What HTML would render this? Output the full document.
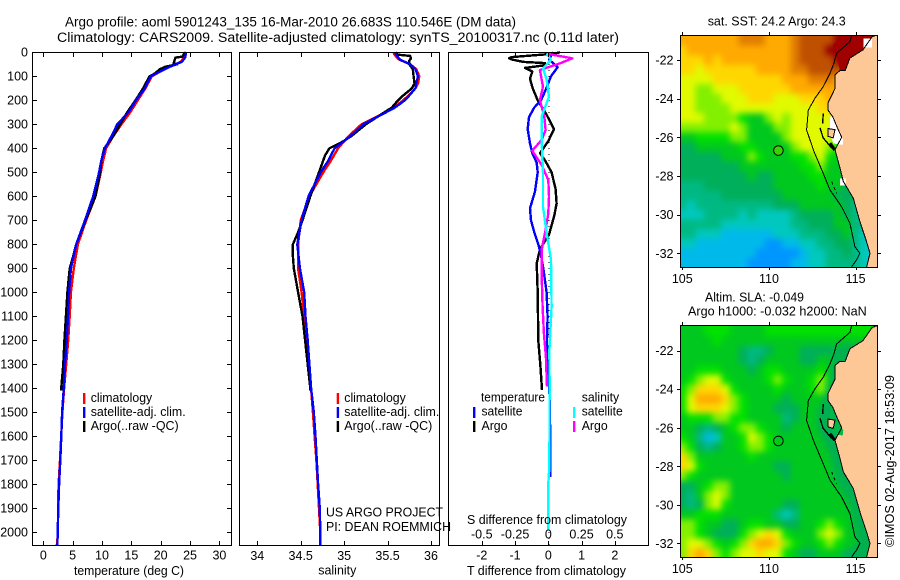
<!DOCTYPE html>
<html>
<head>
<meta charset="utf-8">
<title>Argo profile</title>
<style>
html,body{margin:0;padding:0;background:#fff;}
svg{display:block;}
text{font-family:"Liberation Sans",sans-serif;font-size:12.5px;fill:#000;}
.ttl{font-size:13.5px;}
</style>
</head>
<body>
<svg id="chart" xmlns="http://www.w3.org/2000/svg" width="900" height="580" viewBox="0 0 900 580">
<defs>
<filter id="smooth" filterUnits="userSpaceOnUse" x="640" y="0" width="260" height="580" color-interpolation-filters="sRGB"><feGaussianBlur stdDeviation="3.2"/></filter>
<clipPath id="clip-sst"><rect x="680.5" y="35.5" width="197" height="232"/></clipPath>
<clipPath id="clip-sla"><rect x="680.5" y="325.5" width="197" height="232"/></clipPath>
</defs>
<g id="maps"></g>
<g id="profiles"></g>

<text class="ttl" x="65" y="26.5" textLength="451" lengthAdjust="spacingAndGlyphs">Argo profile: aoml 5901243_135 16-Mar-2010 26.683S 110.546E (DM data)</text>
<text class="ttl" x="57" y="42" textLength="562" lengthAdjust="spacingAndGlyphs">Climatology: CARS2009. Satellite-adjusted climatology: synTS_20100317.nc (0.11d later)</text>

<text x="74" y="575" textLength="110" lengthAdjust="spacingAndGlyphs">temperature (deg C)</text>
<text x="318.3" y="574.5" textLength="38" lengthAdjust="spacingAndGlyphs">salinity</text>
<text x="467" y="575" textLength="159" lengthAdjust="spacingAndGlyphs">T difference from climatology</text>
<text x="467" y="524" textLength="160" lengthAdjust="spacingAndGlyphs">S difference from climatology</text>

<g>
<rect x="83" y="393" width="2.4" height="11" fill="#f00"/>
<rect x="83" y="407" width="2.4" height="11" fill="#00f"/>
<rect x="83" y="421" width="2.4" height="11" fill="#000"/>
<text x="90.7" y="402" textLength="61.5" lengthAdjust="spacingAndGlyphs">climatology</text>
<text x="90.7" y="416" textLength="95" lengthAdjust="spacingAndGlyphs">satellite-adj. clim.</text>
<text x="90.7" y="430" textLength="88" lengthAdjust="spacingAndGlyphs">Argo(..raw -QC)</text>
</g>
<g>
<rect x="336.7" y="393" width="2.4" height="11" fill="#f00"/>
<rect x="336.7" y="407" width="2.4" height="11" fill="#00f"/>
<rect x="336.7" y="421" width="2.4" height="11" fill="#000"/>
<text x="344.3" y="402" textLength="61.5" lengthAdjust="spacingAndGlyphs">climatology</text>
<text x="344.3" y="416" textLength="95" lengthAdjust="spacingAndGlyphs">satellite-adj. clim.</text>
<text x="344.3" y="430" textLength="88" lengthAdjust="spacingAndGlyphs">Argo(..raw -QC)</text>
</g>
<text x="326" y="516.7" textLength="117" lengthAdjust="spacingAndGlyphs">US ARGO PROJECT</text>
<text x="326" y="531" textLength="125" lengthAdjust="spacingAndGlyphs">PI: DEAN ROEMMICH</text>

<g>
<text x="481" y="401.7" textLength="64" lengthAdjust="spacingAndGlyphs">temperature</text>
<text x="481.5" y="415.7" textLength="41" lengthAdjust="spacingAndGlyphs">satellite</text>
<text x="481.5" y="430" textLength="26" lengthAdjust="spacingAndGlyphs">Argo</text>
<rect x="473" y="407" width="2.4" height="11" fill="#00f"/>
<rect x="473" y="421" width="2.4" height="11" fill="#000"/>
<text x="581.7" y="401.7" textLength="37.5" lengthAdjust="spacingAndGlyphs">salinity</text>
<text x="581.7" y="415.7" textLength="41" lengthAdjust="spacingAndGlyphs">satellite</text>
<text x="581.7" y="430" textLength="26" lengthAdjust="spacingAndGlyphs">Argo</text>
<rect x="573" y="407" width="2.4" height="11" fill="#0ff"/>
<rect x="573" y="421" width="2.4" height="11" fill="#f0f"/>
</g>

<text x="707.7" y="25.7" textLength="138" lengthAdjust="spacingAndGlyphs">sat. SST: 24.2  Argo: 24.3</text>
<text x="705" y="301.7" textLength="99" lengthAdjust="spacingAndGlyphs">Altim. SLA: -0.049</text>
<text x="688" y="315.7" textLength="178.7" lengthAdjust="spacingAndGlyphs">Argo h1000: -0.032 h2000: NaN</text>
<text transform="translate(894,547) rotate(-90)" x="0" y="0" textLength="172" lengthAdjust="spacingAndGlyphs">©IMOS 02-Aug-2017 18:53:09</text>
</svg>

<script>
// ---- profile data ----
const depthTicks = [0,100,200,300,400,500,600,700,800,900,1000,1100,1200,1300,1400,1500,1600,1700,1800,1900,2000];
const tempTicks = [0,5,10,15,20,25,30];
const salinityTicks = [34,34.5,35,35.5,36];
const tDiffTicks = [-2,-1,0,1,2];
const sDiffTicks = [-0.5,-0.25,0,0.25,0.5];

const tempDepths = [0,20,40,60,80,100,150,200,250,300,350,400,450,500,600,700,800,900,1000,1100,1200,1300,1400,1500,1600,1700,1800,1900,2000,2056];
const tempClim = [24.1,24.0,23.4,21.5,19.9,18.5,17.4,16.1,14.8,13.3,11.9,10.7,10.2,9.8,8.9,7.3,5.9,5.2,4.7,4.5,4.25,3.9,3.55,3.25,3.05,2.85,2.6,2.5,2.5,2.3];
const tempSat = [24.3,24.2,23.6,21.6,19.9,18.3,17.3,15.8,14.5,12.6,11.6,10.5,9.9,9.5,8.5,7.1,5.6,4.7,4.4,4.2,4.0,3.7,3.5,3.2,3.07,2.9,2.7,2.55,2.45,2.4];
const tempArgoDepths = [0,5,18,22,45,50,60,70,90,100,150,200,250,300,350,400,450,500,600,700,800,850,900,1000,1100,1200,1300,1400,1410];
const tempArgo = [24.3,24.0,23.7,22.5,22.2,22.8,20.8,19.9,18.9,18.1,17.0,15.7,14.3,13.1,11.9,10.4,9.9,9.7,8.9,7.2,5.6,5.1,4.5,4.1,3.85,3.6,3.4,3.05,3.05];

const salDepths = [0,10,30,50,70,100,130,150,180,200,230,260,300,350,400,450,500,600,700,800,900,1000,1100,1200,1300,1400,1500,1600,1700,1800,1900,2000,2056];
const salClim = [35.57,35.58,35.63,35.76,35.83,35.865,35.85,35.82,35.74,35.68,35.57,35.42,35.2,35.05,34.93,34.85,34.76,34.6,34.5,34.47,34.47,34.51,34.54,34.56,34.58,34.62,34.64,34.66,34.68,34.695,34.71,34.725,34.725];
const salSat = [35.585,35.6,35.64,35.76,35.82,35.85,35.83,35.82,35.75,35.7,35.585,35.43,35.22,35.07,34.89,34.82,34.73,34.59,34.51,34.46,34.49,34.54,34.555,34.58,34.6,34.62,34.65,34.67,34.685,34.7,34.72,34.725,34.725];
const salArgoDepths = [0,10,15,25,35,50,70,100,130,150,180,200,230,260,300,350,375,400,430,450,500,600,700,750,800,850,900,1000,1100,1200,1300,1400,1410];
const salArgo = [35.59,35.62,35.76,35.77,35.75,35.75,35.79,35.8,35.81,35.78,35.68,35.62,35.55,35.42,35.25,35.08,34.97,34.83,34.78,34.76,34.71,34.61,34.52,34.47,34.41,34.41,34.42,34.47,34.52,34.55,34.58,34.61,34.61];

const tSatDepths = [0,10,30,62,100,150,200,230,270,320,380,420,460,500,580,650,700,750,800,840,900,1000,1100,1200,1300,1400,1500,1770];
const tSatDiff = [0.15,0.1,0.02,0.28,0.08,-0.06,-0.22,-0.42,-0.58,-0.62,-0.55,-0.48,-0.35,-0.32,-0.4,-0.55,-0.52,-0.42,-0.3,-0.23,-0.15,-0.05,-0.02,-0.04,-0.03,0.03,0.05,0.06];
const tArgoDepths = [0,5,10,20,25,30,40,45,55,65,80,110,150,200,260,320,370,420,450,500,570,630,680,760,820,880,1000,1200,1300,1407];
const tArgoDiff = [0.35,0.2,-0.2,-1.1,-1.18,-1.1,-0.75,-0.1,-0.15,-0.7,-0.48,-0.55,-0.47,-0.32,-0.05,0.17,0,-0.25,-0.1,0.1,0.22,0.25,0.18,0.02,-0.25,-0.35,-0.32,-0.3,-0.24,-0.19];
const sArgoDepths = [7,25,46,74,143,199,268,324,365,410,469,532,601,671,740,824,921,1060,1171,1268,1393];
const sArgoDiff = [0,0.18,0.09,-0.063,-0.04,-0.063,-0.03,-0.02,-0.05,-0.12,-0.05,0,0.005,0,-0.02,-0.05,-0.05,-0.043,-0.033,-0.018,-0.01];
const sSatDepths = [4,32,67,115,185,268,365,504,643,754,865,1060,1240,1379,1726,1796,1990];
const sSatDiff = [-0.012,0.02,-0.04,-0.012,0.005,-0.05,-0.05,-0.04,-0.04,-0.012,0.02,0.025,0.008,0.01,0.008,0,0];

// ---- map data: colour levels 0 (blue) to 13 (dark red), rows lat 21..32.5 step 0.5, cols lon 105..115.5 step 0.5 ----
const mapLons = [105,105.5,106,106.5,107,107.5,108,108.5,109,109.5,110,110.5,111,111.5,112,112.5,113,113.5,114,114.5,115,115.5];
const mapLats = [21,21.5,22,22.5,23,23.5,24,24.5,25,25.5,26,26.5,27,27.5,28,28.5,29,29.5,30,30.5,31,31.5,32,32.5];
const sstGrid = [
[10,10,10,10,10,10,10,11,11,11,10,10,10,11,12,12,12,12,13,13,13,13],
[9,10,10,10,10,10,10,10,10,10,10,10,10,11,12,12,12,13,13,13,13,13],
[9,9,9,10,9,10,10,10,10,10,10,10,10,11,12,12,12,12,13,13,13,13],
[9,9,8,9,9,9,9,9,9,10,10,10,10,11,11,12,12,12,12,12,12,12],
[8,8,8,8,9,9,9,9,9,9,9,9,10,10,10,11,11,11,10,10,10,10],
[8,8,7,7,8,8,8,9,9,9,9,9,9,10,10,10,10,10,10,10,10,10],
[8,8,7,7,7,8,8,8,9,9,9,8,8,8,9,9,9,10,10,10,10,10],
[8,8,7,7,7,7,8,8,8,8,8,8,8,8,8,8,9,9,10,10,10,10],
[8,8,8,7,7,7,7,6,5,5,7,8,7,8,8,8,8,8,9,9,9,9],
[7,7,7,7,7,7,8,7,5,5,5,7,7,8,8,8,8,8,8,8,8,8],
[5,5,6,6,6,6,7,7,5,5,5,5,7,8,8,8,8,8,6,5,5,5],
[4,4,5,5,5,5,5,6,6,5,5,5,5,7,8,8,8,7,6,5,5,5],
[4,4,4,4,4,5,5,5,7,6,5,5,5,6,6,7,8,6,5,5,5,5],
[4,4,4,4,4,4,4,5,5,5,5,5,5,5,6,6,7,5,5,5,5,5],
[4,4,4,4,4,4,4,4,5,4,4,5,5,5,5,6,6,5,5,5,5,5],
[3,3,3,4,4,4,4,4,4,4,4,5,5,5,5,5,6,5,5,4,4,4],
[3,3,3,3,3,4,4,4,4,4,4,4,5,5,5,5,5,5,4,4,4,4],
[3,2,3,3,3,3,3,3,3,3,3,4,4,4,5,5,5,5,5,4,3,3],
[2,2,2,3,3,3,3,2,3,2,2,2,2,3,4,4,4,4,5,4,3,3],
[3,3,3,3,3,2,2,2,2,2,2,2,2,3,3,4,4,4,5,5,3,3],
[3,3,2,2,2,1,1,1,1,1,1,2,2,2,3,3,3,4,4,5,3,2],
[2,2,1,1,1,1,1,1,1,1,0,0,1,1,2,2,3,3,4,4,3,2],
[1,1,1,1,1,1,1,1,1,0,0,0,0,0,1,2,2,3,3,4,3,2],
[1,1,1,1,1,1,1,1,0,0,0,0,0,1,1,2,2,3,3,3,3,2]
];
const slaGrid = [
[5,5,5,6,6,6,5,5,5,5,6,6,6,6,6,6,6,6,6,6,6,6],
[5,5,5,5,6,5,5,5,5,5,5,5,5,5,5,5,5,5,5,5,5,5],
[5,5,5,5,5,5,5,4,3,3,4,5,5,5,4,4,4,4,5,5,5,5],
[5,5,5,5,5,5,5,4,3,4,5,5,5,5,4,4,5,5,5,5,5,5],
[5,5,6,6,6,5,5,5,4,5,6,6,5,5,5,5,6,5,5,5,5,5],
[5,6,7,8,8,6,5,5,5,5,6,7,6,5,5,6,7,6,5,5,5,5],
[6,7,9,9,9,8,6,5,5,5,5,6,5,5,5,6,7,6,5,5,5,5],
[6,8,10,10,10,9,7,6,5,5,5,5,4,5,5,5,5,5,5,5,5,5],
[6,8,9,9,9,8,7,6,5,5,5,4,4,4,5,5,5,5,5,5,5,5],
[5,6,6,6,7,7,6,6,5,5,5,5,3,4,5,5,5,5,5,5,5,5],
[5,5,4,3,4,5,6,7,7,6,5,5,4,5,5,5,5,5,5,5,5,5],
[6,5,3,1,2,5,5,6,8,7,6,5,5,5,5,5,5,5,5,5,5,5],
[7,6,4,3,4,5,5,6,7,7,6,5,5,5,5,5,5,5,5,5,5,5],
[9,7,5,5,5,5,5,5,6,5,5,5,5,5,5,5,5,5,5,5,5,5],
[9,8,6,5,5,5,5,5,5,5,5,4,4,5,5,5,5,5,5,5,5,5],
[7,6,5,5,5,5,5,5,5,5,5,5,4,5,5,5,5,5,5,5,5,5],
[4,4,5,6,7,7,5,5,5,5,5,5,5,5,5,5,5,5,5,5,5,5],
[4,3,5,7,8,7,5,5,5,5,5,5,5,5,5,5,5,5,5,5,5,5],
[4,3,4,7,8,6,5,5,5,5,5,5,4,4,5,5,5,5,5,5,5,5],
[5,5,6,6,6,5,5,5,5,5,5,3,2,3,5,5,5,5,5,5,5,5],
[7,7,6,5,5,4,4,5,6,6,5,5,4,4,5,5,6,7,6,5,5,5],
[7,7,6,5,4,4,4,6,7,8,9,8,6,5,5,5,7,8,7,5,5,5],
[7,8,8,7,6,5,6,7,9,10,10,9,7,6,5,5,6,7,6,5,5,5],
[7,9,10,9,7,6,7,8,8,9,8,8,6,5,4,4,5,5,5,4,4,4]
];
const coastLons = [116.25,115.95,115.42,114.67,114.4,114.09,113.8,113.8,113.42,113.42,113.69,113.93,114.2,113.81,114.1,114.29,114.87,115.25,115.63,115.83,115.63];
const coastLats = [20.7,20.8,21.48,21.9,22.55,22.55,22.78,23.5,24.2,24.6,24.95,25.47,26.0,26.64,27.59,28.28,29.15,30.36,31.39,32.0,32.73];
const isobathLons = [114.77,114.67,113.9,113.75,113.52,113.13,112.65,112.27,112.17,112.6,113.13,113.52,114.19,114.67,114.96,115.25,115.06,114.77];
const isobathLats = [20.72,21.05,21.66,22.17,22.69,23.38,23.98,24.59,25.62,26.74,27.86,28.72,29.59,30.45,31.66,32.0,32.34,32.7];
const bayLons = [113.52,113.69,113.93,114.29,114.25,113.71,113.52];
const bayLats = [24.93,24.95,25.47,26.14,26.4,26.31,25.79];
const peninsulaLons = [113.42,113.81,113.71,113.42];
const peninsulaLats = [25.55,25.6,26.03,25.95];
const redLons = [113.7,113.7,114.27,115.95,115.88,115.42,114.67,114.38,114.09,113.98,113.9];
const redLats = [21.64,21.22,20.7,20.7,20.85,21.48,21.9,22.55,22.55,22.0,21.64];
const gapALons = [115.45,115.95,115.95,115.45];
const gapALats = [20.9,20.9,21.35,21.35];
const gapBLons = [114.1,114.45,114.45,114.1];
const gapBLats = [28.12,28.12,28.5,28.5];
const shelfLons = [113.95,113.62,113.42,113.13,112.75,112.85,113.52,113.9,114.67,115.06,114.77,116.25,116.25];
const shelfLats = [21.65,22.57,23.61,24.47,25.34,26.2,27.41,28.8,30.0,31.74,32.73,32.73,21.65];
const dirkLons = [113.13,113.1];
const dirkLats = [24.76,25.28];
const hartogLons = [112.94,113.13,113.62];
const hartogLats = [25.51,26.03,26.55];
const blobLons = [113.52,113.8];
const blobLats = [26.3,26.66];
const abrolhosLons = [113.62,113.9];
const abrolhosLats = [28.29,28.9];
const argoLon = 110.546;
const argoLat = 26.683;
const mapLonTicks = [105,110,115];
const mapLatTicks = [22,24,26,28,30,32];

// ---- colour scale ----
const levelColours = ['#0096ff','#00b9eb','#00c8be','#00b982','#00af5a','#00c81e','#00e100','#82f000','#e1fa00','#ffd700','#ffaa00','#e17d00','#be5000','#960000'];
function levelColour(v){
  const i = Math.max(0, Math.min(levelColours.length - 1, Math.round(v)));
  return levelColours[i];
}

// ---- scales ----
const depthY = d => 52.3 + 0.24 * d;
const tempX = t => 43.3 + 5.87 * t;
const salX = s => 257.3 + 86.85 * (s - 34);
const tDiffX = t => 548.3 + 33.25 * t;
const sDiffX = s => 548.3 + 133 * s;
const lonX = lon => 682.3 + 17.33 * (lon - 105);
const NS = 'http://www.w3.org/2000/svg';

function make(parent, tag, attrs){
  const el = document.createElementNS(NS, tag);
  for (const k in attrs) el.setAttribute(k, attrs[k]);
  parent.appendChild(el);
  return el;
}
function pointsFrom(xs, ys, fx, fy){
  return xs.map((x, i) => fx(x).toFixed(1) + ',' + fy(ys[i]).toFixed(1)).join(' ');
}
const prof = document.getElementById('profiles');
const maps = document.getElementById('maps');

function drawSeries(values, depths, fx, colour, name){
  const line = make(prof, 'polyline', {points: pointsFrom(values, depths, fx, depthY), fill: 'none', stroke: colour, 'stroke-width': 2.4, 'shape-rendering': 'crispEdges', 'stroke-linejoin': 'round'});
  
  
}
function drawFrame(x0, x1, name){
  const r = make(prof, 'rect', {x: x0 + 0.5, y: 52.5, width: x1 - x0, height: 493, fill: 'none', stroke: '#000', 'stroke-width': 1, 'shape-rendering': 'crispEdges'});
  
  
}
function drawXTicks(ticks, fx, labelY, top, bottom){
  ticks.forEach(t => {
    const x = Math.round(fx(t)) + 0.5;
    if (top) {
      const a = make(prof, 'line', {x1: x, x2: x, y1: 52.5, y2: 57, stroke: '#000', 'shape-rendering': 'crispEdges'});
      
      
    }
    if (bottom) {
      const b = make(prof, 'line', {x1: x, x2: x, y1: 541, y2: 545.5, stroke: '#000', 'shape-rendering': 'crispEdges'});
      
      
    }
    const lbl = make(prof, 'text', {x: fx(t), y: labelY, 'text-anchor': 'middle'});
    lbl.textContent = String(t);
    
    
  });
}

// ---- panel 1: temperature ----
drawSeries(tempClim, tempDepths, tempX, '#f00', 'temperature-climatology-line');
drawSeries(tempArgo, tempArgoDepths, tempX, '#000', 'temperature-argo-line');
drawSeries(tempSat, tempDepths, tempX, '#00f', 'temperature-satellite-line');
drawFrame(32, 231, 'temperature-panel-frame');
drawXTicks(tempTicks, tempX, 559.5, true, true);
depthTicks.forEach(d => {
  const y = Math.round(depthY(d)) + 0.5;
  const l = make(prof, 'line', {x1: 32.5, x2: 37, y1: y, y2: y, stroke: '#000', 'shape-rendering': 'crispEdges'});
  
  
  const r = make(prof, 'line', {x1: 227, x2: 231.5, y1: y, y2: y, stroke: '#000', 'shape-rendering': 'crispEdges'});
  
  
  const lbl = make(prof, 'text', {x: 28, y: depthY(d) + 4, 'text-anchor': 'end'});
  lbl.textContent = String(d);
  
  
});

// ---- panel 2: salinity ----
drawSeries(salClim, salDepths, salX, '#f00', 'salinity-climatology-line');
drawSeries(salArgo, salArgoDepths, salX, '#000', 'salinity-argo-line');
drawSeries(salSat, salDepths, salX, '#00f', 'salinity-satellite-line');
drawFrame(239, 439, 'salinity-panel-frame');
drawXTicks(salinityTicks, salX, 560, true, true);

// ---- panel 3: differences ----
const zero = make(prof, 'line', {x1: tDiffX(0) + 0.5, x2: tDiffX(0) + 0.5, y1: 52, y2: 545, stroke: '#000', 'stroke-width': 1, 'stroke-dasharray': '1 5', 'shape-rendering': 'crispEdges'});


drawSeries(tArgoDiff, tArgoDepths, tDiffX, '#000', 't-diff-argo-line');
drawSeries(tSatDiff, tSatDepths, tDiffX, '#00f', 't-diff-satellite-line');
drawSeries(sArgoDiff, sArgoDepths, sDiffX, '#f0f', 's-diff-argo-line');
drawSeries(sSatDiff, sSatDepths, sDiffX, '#0ff', 's-diff-satellite-line');
drawFrame(448, 648, 'difference-panel-frame');
drawXTicks(tDiffTicks, tDiffX, 559.5, false, true);
drawXTicks(sDiffTicks, sDiffX, 538.7, true, false);

// ---- maps ----
function drawMap(grid, latY, frameTop, frameBottom, clipId, isSst){
  const clip = make(maps, 'g', {'clip-path': 'url(#' + clipId + ')'});
  
  
  const heat = make(clip, 'g', {filter: 'url(#smooth)'});
  
  
  grid.forEach((row, ri) => {
    row.forEach((v, ci) => {
      let x0 = lonX(mapLons[ci] - 0.25), x1 = lonX(mapLons[ci] + 0.25);
      let y0 = latY(mapLats[ri] - 0.25), y1 = latY(mapLats[ri] + 0.25);
      if (ci === 0) x0 -= 14;
      if (ci === row.length - 1) x1 += 14;
      if (ri === 0) y0 -= 14;
      if (ri === grid.length - 1) y1 += 14;
      const cell = make(heat, 'rect', {x: x0.toFixed(1), y: y0.toFixed(1), width: (x1 - x0 + 0.6).toFixed(1), height: (y1 - y0 + 0.6).toFixed(1), fill: levelColour(v)});
      
      
    });
  });
  if (!isSst) {
    const shelf = make(heat, 'polygon', {points: pointsFrom(shelfLons, shelfLats, lonX, latY), fill: '#00b050'});
    
    
  }
  if (isSst) {
    const red = make(clip, 'polygon', {points: pointsFrom(redLons, redLats, lonX, latY), fill: '#a00000', 'shape-rendering': 'crispEdges'});
    
    
  }
  const landLons = coastLons.concat([116.5, 116.5]);
  const landLats = coastLats.concat([32.9, 20.5]);
  const land = make(clip, 'polygon', {points: pointsFrom(landLons, landLats, lonX, latY), fill: '#fdc896', 'shape-rendering': 'crispEdges'});
  
  
  const bay = make(clip, 'polygon', {points: pointsFrom(bayLons, bayLats, lonX, latY), fill: isSst ? '#fff' : '#00b84a', 'shape-rendering': 'crispEdges'});
  
  
  const peninsula = make(clip, 'polygon', {points: pointsFrom(peninsulaLons, peninsulaLats, lonX, latY), fill: '#fdc896', stroke: '#000', 'stroke-width': 1, 'shape-rendering': 'crispEdges'});
  
  
  if (isSst) {
    const gapA = make(clip, 'polygon', {points: pointsFrom(gapALons, gapALats, lonX, latY), fill: '#fff', 'shape-rendering': 'crispEdges'});
    
    
    const gapB = make(clip, 'polygon', {points: pointsFrom(gapBLons, gapBLats, lonX, latY), fill: '#fff', 'shape-rendering': 'crispEdges'});
    
    
  }
  const coast = make(clip, 'polyline', {points: pointsFrom(coastLons, coastLats, lonX, latY), fill: 'none', stroke: '#000', 'stroke-width': 1, 'shape-rendering': 'crispEdges'});
  
  
  const iso = make(clip, 'polyline', {points: pointsFrom(isobathLons, isobathLats, lonX, latY), fill: 'none', stroke: '#000', 'stroke-width': 1, 'shape-rendering': 'crispEdges'});
  
  
  const dirk = make(clip, 'polyline', {points: pointsFrom(dirkLons, dirkLats, lonX, latY), fill: 'none', stroke: '#000', 'stroke-width': 1.4, 'shape-rendering': 'crispEdges'});
  
  
  const hartog = make(clip, 'polyline', {points: pointsFrom(hartogLons, hartogLats, lonX, latY), fill: 'none', stroke: '#000', 'stroke-width': 1.4, 'shape-rendering': 'crispEdges'});
  
  
  const blob = make(clip, 'polyline', {points: pointsFrom(blobLons, blobLats, lonX, latY), fill: 'none', stroke: '#000', 'stroke-width': 3, 'shape-rendering': 'crispEdges'});
  
  
  const abrolhos = make(clip, 'polyline', {points: pointsFrom(abrolhosLons, abrolhosLats, lonX, latY), fill: 'none', stroke: '#000', 'stroke-width': 1, 'stroke-dasharray': '3 3', 'shape-rendering': 'crispEdges'});
  
  
  const frame = make(maps, 'rect', {x: 680.5, y: frameTop + 0.5, width: 197, height: frameBottom - frameTop, fill: 'none', stroke: '#000', 'shape-rendering': 'crispEdges'});
  
  
  mapLonTicks.forEach(lon => {
    const x = Math.round(lonX(lon)) + 0.5;
    const t1 = make(maps, 'line', {x1: x, x2: x, y1: frameTop - 3, y2: frameTop, stroke: '#000', 'shape-rendering': 'crispEdges'});
    
    
    const t2 = make(maps, 'line', {x1: x, x2: x, y1: frameBottom, y2: frameBottom + 3, stroke: '#000', 'shape-rendering': 'crispEdges'});
    
    
    const lbl = make(maps, 'text', {x: lonX(lon), y: frameBottom + 16, 'text-anchor': 'middle'});
    lbl.textContent = String(lon);
    
    
  });
  mapLatTicks.forEach(lat => {
    const y = Math.round(latY(lat)) + 0.5;
    const t1 = make(maps, 'line', {x1: 677, x2: 680.5, y1: y, y2: y, stroke: '#000', 'shape-rendering': 'crispEdges'});
    
    
    const t2 = make(maps, 'line', {x1: 877.5, x2: 881, y1: y, y2: y, stroke: '#000', 'shape-rendering': 'crispEdges'});
    
    
    const lbl = make(maps, 'text', {x: 673.5, y: latY(lat) + 4.5, 'text-anchor': 'end'});
    lbl.textContent = '-' + lat;
    
    
  });
  const pt = make(maps, 'circle', {cx: lonX(argoLon), cy: latY(argoLat), r: 4.8, fill: isSst ? '#3cd200' : 'none', stroke: '#000', 'stroke-width': 1});
  
  
}
drawMap(sstGrid, lat => 60 + 19.33 * (lat - 22), 35, 267, 'clip-sst', true);
drawMap(slaGrid, lat => 350.7 + 19.27 * (lat - 22), 325, 557, 'clip-sla', false);
</script>
</body>
</html>
